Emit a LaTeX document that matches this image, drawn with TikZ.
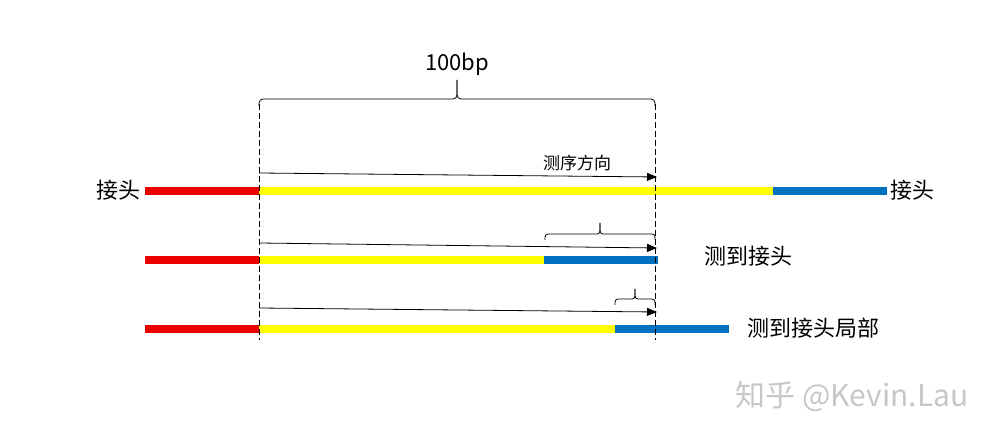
\documentclass[tikz,border=0pt]{standalone}
\usepackage{fontspec}
\setmainfont{Noto Sans CJK SC}
\usetikzlibrary{arrows.meta}
\definecolor{adred}{RGB}{235,0,0}
\definecolor{insyellow}{RGB}{255,255,0}
\definecolor{adblue}{RGB}{0,112,192}
\tikzset{
  bar/.style={line width=7.5pt},
  guide/.style={dashed, dash pattern=on 6pt off 3pt, line width=0.8pt},
  readarrow/.style={line width=0.8pt, -{Triangle[length=10pt,width=8pt]}},
  bracepath/.style={line width=0.8pt, rounded corners=4pt},
  lab/.style={font=\fontsize{22}{24}\selectfont, inner sep=0pt},
}
\begin{document}
\begin{tikzpicture}[x=1pt,y=-1pt]
\useasboundingbox (0,0) rectangle (995,435);
% bars row 1
\draw[bar, adred] (145,191) -- (259,191);
\draw[bar, insyellow] (259,191) -- (773,191);
\draw[bar, adblue] (773,191) -- (887,191);
% row 2
\draw[bar, adred] (145,260) -- (259,260);
\draw[bar, insyellow] (259,260) -- (544,260);
\draw[bar, adblue] (544,260) -- (658,260);
% row 3
\draw[bar, adred] (145,329) -- (259,329);
\draw[bar, insyellow] (259,329) -- (615,329);
\draw[bar, adblue] (615,329) -- (729,329);
% dashed guides
\coordinate (gl1) at (259,104);
\coordinate (gl2) at (259,340);
\coordinate (gr1) at (655,104);
\coordinate (gr2) at (655,340);
\draw[guide] (gl1) -- (gl2);
\draw[guide] (gr1) -- (gr2);
% top brace
\coordinate (b1l) at (259,106);
\coordinate (b1r) at (655,106);
\coordinate (b1m) at (457,99);
\coordinate (b1t) at (457,80);
\draw[bracepath] (b1l) |- (b1m) -- (b1t);
\draw[bracepath] (b1r) |- (b1m) -- (b1t);
\node[font=\fontsize{22}{24}\selectfont, inner sep=0pt] (bp) at (457,64) {100bp};
% arrows
\coordinate (a1s) at (259,173);
\coordinate (a1e) at (657,177);
\draw[readarrow] (a1s) -- (a1e);
\node[font=\fontsize{17}{19}\selectfont, inner sep=0pt] (dir) at (577,163) {测序方向};
\coordinate (a2s) at (259,243);
\coordinate (a2e) at (657,248);
\draw[readarrow] (a2s) -- (a2e);
\coordinate (a3s) at (259,308);
\coordinate (a3e) at (657,312);
\draw[readarrow] (a3s) -- (a3e);
% small braces
\coordinate (b2l) at (545,240);
\coordinate (b2r) at (655,240);
\coordinate (b2m) at (600,234);
\coordinate (b2t) at (600,223);
\draw[bracepath, rounded corners=3pt] (b2l) |- (b2m) -- (b2t);
\draw[bracepath, rounded corners=3pt] (b2r) |- (b2m) -- (b2t);
\coordinate (b3l) at (615,305);
\coordinate (b3r) at (655,305);
\coordinate (b3m) at (635,299);
\coordinate (b3t) at (635,289);
\draw[bracepath, rounded corners=3pt] (b3l) |- (b3m) -- (b3t);
\draw[bracepath, rounded corners=3pt] (b3r) |- (b3m) -- (b3t);
% labels
\node[lab] (j1) at (118,190) {接头};
\node[lab] (j2) at (912,190) {接头};
\node[lab] (t2) at (748,256) {测到接头};
\node[lab] (t3) at (813,328) {测到接头局部};
% watermark
\node[font=\fontsize{30}{32}\selectfont, inner sep=0pt, text=black!22] (wm) at (852,396) {知乎 @Kevin.Lau};
\end{tikzpicture}
\end{document}
